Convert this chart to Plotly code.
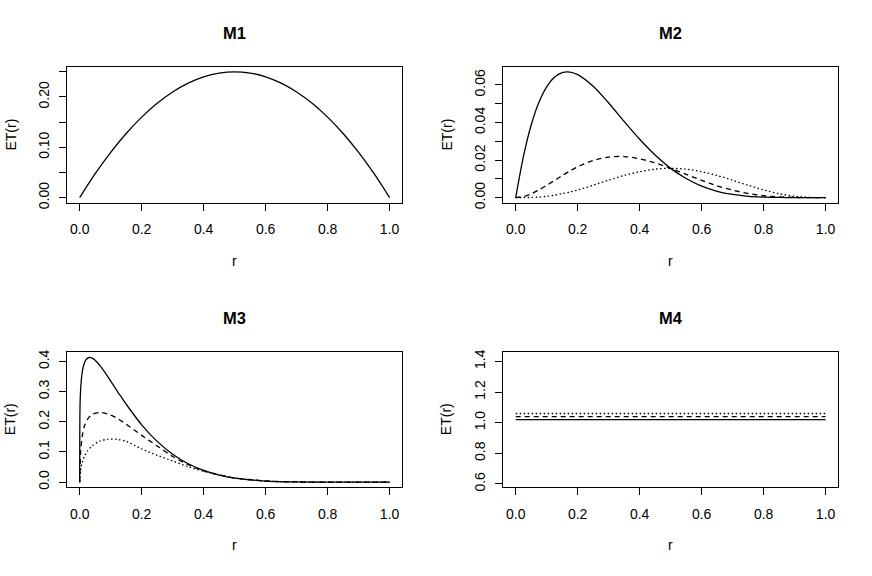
import plotly.graph_objects as go
from plotly.subplots import make_subplots

# ---- data ----
m1_r = [0.0, 0.05, 0.1, 0.15, 0.2, 0.25, 0.3, 0.35, 0.4, 0.45, 0.5,
        0.55, 0.6, 0.65, 0.7, 0.75, 0.8, 0.85, 0.9, 0.95, 1.0]
m1_et = [0.0, 0.0475, 0.09, 0.1275, 0.16, 0.1875, 0.21, 0.2275, 0.24, 0.2475, 0.25,
         0.2475, 0.24, 0.2275, 0.21, 0.1875, 0.16, 0.1275, 0.09, 0.0475, 0.0]

m2_r = [0.0, 0.025, 0.05, 0.075, 0.1, 0.125, 0.15, 0.175, 0.2, 0.25, 0.3, 0.35, 0.4,
        0.45, 0.5, 0.55, 0.6, 0.65, 0.7, 0.75, 0.8, 0.85, 0.9, 0.95, 1.0]
m2_solid = [0.0, 0.0220, 0.0387, 0.0508, 0.0590, 0.0641, 0.0666, 0.0669, 0.0655, 0.0593,
            0.0504, 0.0406, 0.0311, 0.0227, 0.0156, 0.0102, 0.0061, 0.0034, 0.0017,
            0.0007, 0.0003, 0.0001, 0.0, 0.0, 0.0]
m2_dashed = [0.0, 0.0006, 0.0020, 0.0041, 0.0066, 0.0091, 0.0118, 0.0142, 0.0164, 0.0198,
             0.0216, 0.0219, 0.0207, 0.0185, 0.0156, 0.0124, 0.0092, 0.0063, 0.0040,
             0.0022, 0.0010, 0.0004, 0.0001, 0.0, 0.0]
m2_dotted = [0.0, 0.0, 0.0001, 0.0003, 0.0007, 0.0013, 0.0021, 0.0030, 0.0041, 0.0066,
             0.0093, 0.0118, 0.0138, 0.0152, 0.0156, 0.0152, 0.0138, 0.0118, 0.0093,
             0.0066, 0.0041, 0.0021, 0.0007, 0.0001, 0.0]

m3_solid_r = [0.0, 0.001, 0.003, 0.006, 0.01, 0.015, 0.02, 0.03, 0.04, 0.05, 0.07, 0.1,
              0.13, 0.16, 0.2, 0.25, 0.3, 0.35, 0.4, 0.45, 0.5, 0.6, 0.7, 0.8, 0.9, 1.0]
m3_solid = [0.0, 0.250, 0.307, 0.347, 0.375, 0.394, 0.405, 0.413, 0.411, 0.404, 0.380,
            0.335, 0.288, 0.244, 0.190, 0.135, 0.0925, 0.061, 0.039, 0.0236, 0.0136,
            0.0037, 0.0007, 0.0001, 0.0, 0.0]
m3_r = [0.0, 0.003, 0.008, 0.015, 0.025, 0.04, 0.065, 0.09, 0.12, 0.15, 0.2, 0.25, 0.3,
        0.35, 0.4, 0.45, 0.5, 0.6, 0.7, 0.8, 0.9, 1.0]
m3_dashed = [0.0, 0.10, 0.15, 0.185, 0.208, 0.224, 0.231, 0.226, 0.212, 0.192, 0.155,
             0.120, 0.085, 0.058, 0.037, 0.024, 0.014, 0.0038, 0.0007, 0.0001, 0.0, 0.0]
m3_dotted = [0.0, 0.04, 0.065, 0.085, 0.103, 0.12, 0.136, 0.142, 0.142, 0.135, 0.110,
             0.089, 0.070, 0.051, 0.036, 0.024, 0.014, 0.0038, 0.0007, 0.0001, 0.0, 0.0]

m4_r = [0.0, 1.0]
m4_solid = [1.02, 1.02]
m4_dashed = [1.04, 1.04]
m4_dotted = [1.06, 1.06]

titles = ["M1", "M2", "M3", "M4"]
x_ticks = [0.0, 0.2, 0.4, 0.6, 0.8, 1.0]
y_ticks = [
    ([0.0, 0.05, 0.10, 0.15, 0.20, 0.25], ["0.00", "", "0.10", "", "0.20", ""]),
    ([0.0, 0.01, 0.02, 0.03, 0.04, 0.05, 0.06], ["0.00", "", "0.02", "", "0.04", "", "0.06"]),
    ([0.0, 0.1, 0.2, 0.3, 0.4], ["0.0", "0.1", "0.2", "0.3", "0.4"]),
    ([0.6, 0.8, 1.0, 1.2, 1.4], ["0.6", "0.8", "1.0", "1.2", "1.4"]),
]
y_ranges = [[-0.01, 0.26], [-0.00268, 0.0697], [-0.01664, 0.4326], [0.579, 1.464]]

W, H = 872, 576
FONT = "Liberation Sans, Arial, Helvetica, sans-serif"
SOLID = dict(color="black", width=1.3)
DASHED = dict(color="black", width=1.3, dash="5px,4px")
DOTTED = dict(color="black", width=1.3, dash="1.5px,2.5px")

fig = make_subplots(rows=2, cols=2)

def add(x, y, line, row, col, spline=True):
    if spline:
        line = dict(**line, shape="spline", smoothing=0.8)
    fig.add_trace(
        go.Scatter(x=x, y=y, mode="lines", line=line, showlegend=False, hoverinfo="skip"),
        row=row, col=col
    )

add(m1_r, m1_et, SOLID, 1, 1)
add(m2_r, m2_solid, SOLID, 1, 2)
add(m2_r, m2_dashed, DASHED, 1, 2)
add(m2_r, m2_dotted, DOTTED, 1, 2)
add(m3_solid_r, m3_solid, SOLID, 2, 1)
add(m3_r, m3_dashed, DASHED, 2, 1)
add(m3_r, m3_dotted, DOTTED, 2, 1)
add(m4_r, m4_solid, SOLID, 2, 2, spline=False)
add(m4_r, m4_dashed, DASHED, 2, 2, spline=False)
add(m4_r, m4_dotted, DOTTED, 2, 2, spline=False)

# panel boxes in pixels (left, right, top, bottom)
boxes = [(67.3, 402, 65.7, 203.5), (503.3, 838, 65.7, 203.5),
         (67.3, 402, 354.5, 492), (503.3, 838, 354.5, 492)]

axis_style = dict(showline=True, mirror=True, linecolor="black", linewidth=1,
                  ticks="outside", ticklen=7, tickwidth=1, tickcolor="black",
                  showgrid=False, zeroline=False,
                  tickfont=dict(family=FONT, size=14, color="black"))

def px(x):
    return x / W

def py(y):
    return 1 - y / H

for i, (l, r, t, b) in enumerate(boxes):
    row, col = i // 2 + 1, i % 2 + 1
    fig.update_xaxes(domain=[px(l), px(r)], range=[-0.04, 1.04],
                     tickvals=x_ticks, ticktext=[f"{v:.1f}" for v in x_ticks],
                     ticklabelstandoff=7, row=row, col=col, **axis_style)
    tv, tt = y_ticks[i]
    fig.update_yaxes(domain=[py(b), py(t)], range=y_ranges[i],
                     tickvals=tv, ticktext=tt, tickangle=-90,
                     ticklabelstandoff=5, row=row, col=col, **axis_style)
    cx = (l + r) / 2
    cy = (t + b) / 2
    # panel title
    fig.add_annotation(text=f"<b>{titles[i]}</b>", x=px(cx), y=py(t - 34),
                       xanchor="center", yanchor="middle",
                       xref="paper", yref="paper", showarrow=False,
                       font=dict(family=FONT, size=16.5, color="black"))
    # x label
    fig.add_annotation(text="r", x=px(cx), y=py(b + 59),
                       xanchor="center", yanchor="middle",
                       xref="paper", yref="paper", showarrow=False,
                       font=dict(family=FONT, size=14, color="black"))
    # y label
    fig.add_annotation(text="ET(r)", x=px(l - 56.5), y=py(cy), textangle=-90,
                       xanchor="center", yanchor="middle",
                       xref="paper", yref="paper", showarrow=False,
                       font=dict(family=FONT, size=14, color="black"))

fig.update_layout(
    width=W, height=H,
    margin=dict(l=0, r=0, t=0, b=0),
    paper_bgcolor="white", plot_bgcolor="white",
    font=dict(family=FONT, size=14, color="black"),
)

# drop the page's default body margin so the figure sits at the window corner
fig.write_html("out.html", config={"displayModeBar": False},
               post_script="document.body.style.margin = '0';")
